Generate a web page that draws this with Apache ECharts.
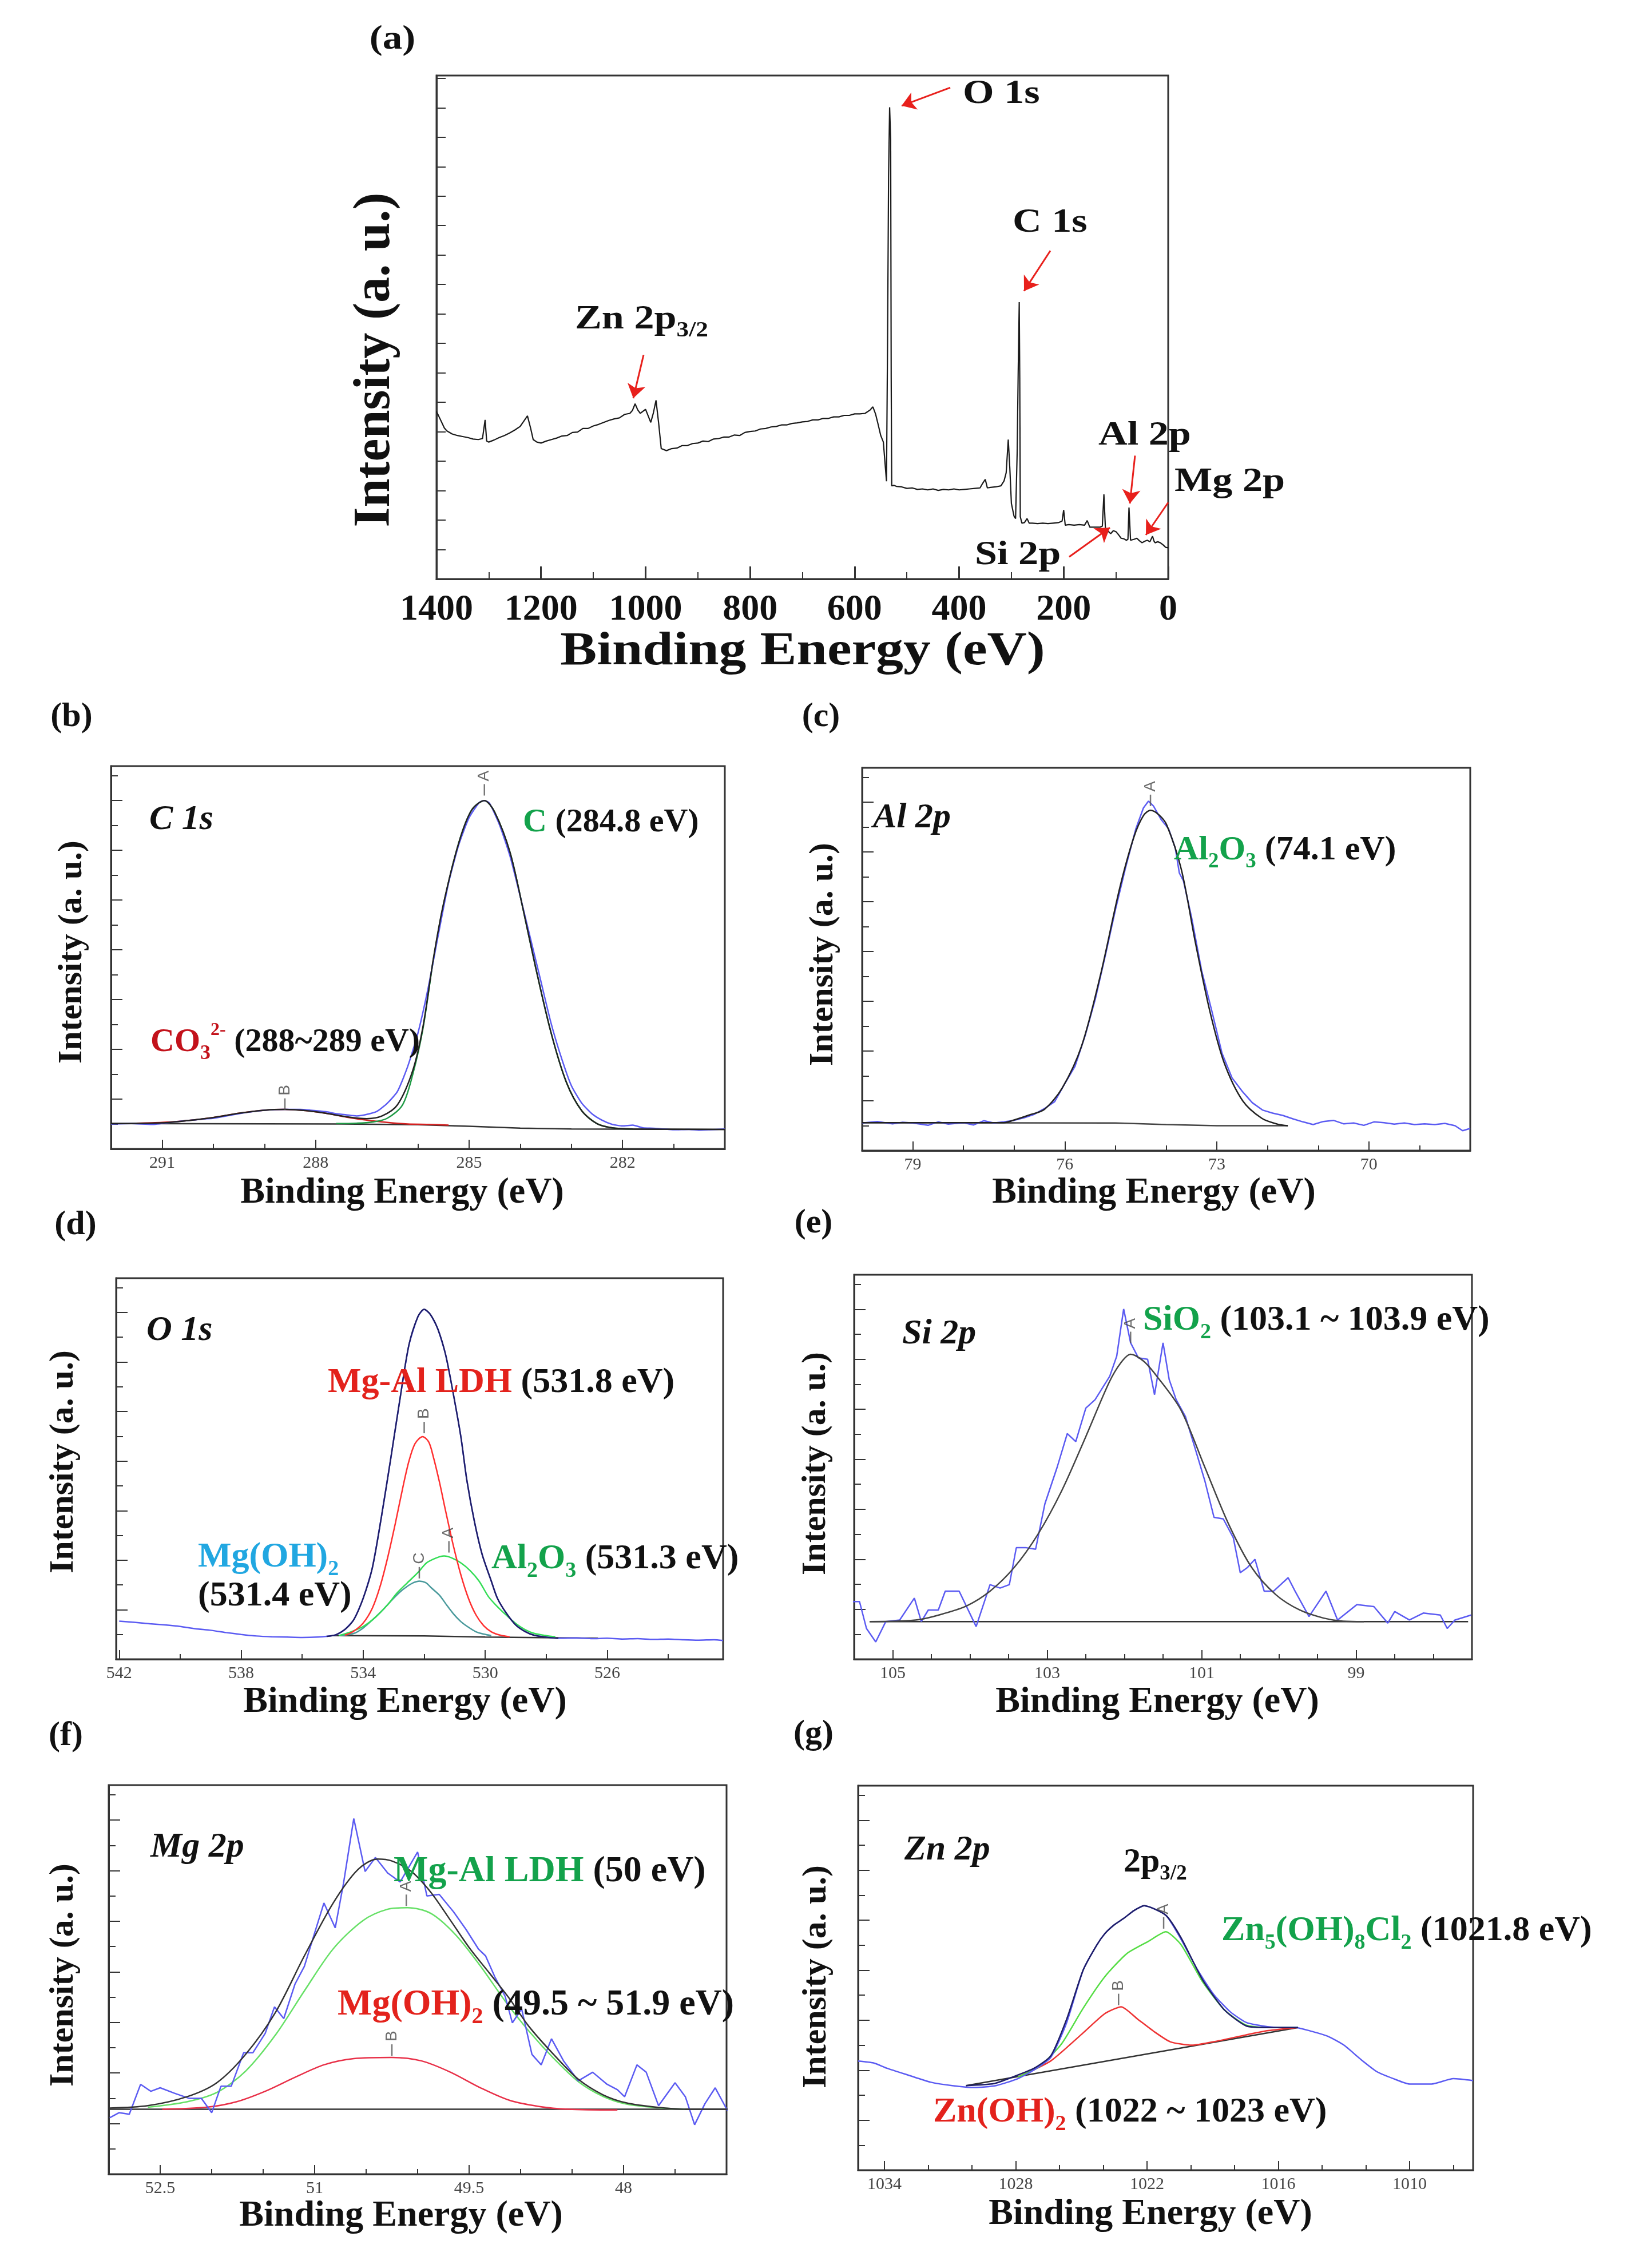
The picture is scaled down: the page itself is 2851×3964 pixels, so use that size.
<!DOCTYPE html>
<html>
<head>
<meta charset="utf-8">
<title>XPS spectra</title>
<script src="https://cdn.jsdelivr.net/npm/echarts@6.0.0/dist/echarts.min.js"></script>
<style>
  html, body { margin: 0; padding: 0; background: #fff; }
  #chart { width: 2851px; height: 3964px; }
</style>
</head>
<body>
<div id="chart"></div>
<script>
// ---------- data: [binding energy (eV), intensity (% of plot height)] ----------

// (a) survey
const aTicks = [100, 300, 500, 700, 900, 1100, 1300];
const aTickLabels = [0, 200, 400, 600, 800, 1000, 1200, 1400];
const aSurvey = [
  [1400, 33.3], [1395, 32.2], [1390, 31.1], [1385, 30.0], [1380, 29.4], [1370, 28.8], [1360, 28.5], [1350, 28.3],
  [1340, 28.1], [1330, 27.8], [1320, 27.7], [1312, 27.9], [1307, 31.6], [1304, 27.4], [1300, 27.2], [1290, 27.6],
  [1280, 28.1], [1270, 28.5], [1260, 29.0], [1250, 29.6], [1240, 30.3], [1232, 31.5], [1226, 32.4], [1220, 30.0],
  [1215, 27.7], [1208, 27.2], [1200, 27.0], [1190, 27.4], [1180, 27.7], [1170, 28.0], [1160, 28.4], [1150, 28.5],
  [1140, 29.1], [1130, 29.2], [1120, 29.9], [1110, 29.9], [1100, 30.4], [1090, 30.7], [1080, 31.1], [1070, 31.5],
  [1060, 31.8], [1050, 32.0], [1040, 32.7], [1030, 32.9], [1025, 33.5], [1020, 34.8], [1015, 33.6], [1010, 32.9],
  [1005, 33.3], [1000, 33.7], [995, 32.4], [990, 31.1], [985, 33.0], [980, 35.5], [975, 31.0], [970, 25.9],
  [960, 25.5], [950, 25.9], [940, 26.0], [930, 26.5], [920, 26.5], [910, 26.9], [900, 27.0], [890, 27.4],
  [880, 27.3], [870, 27.8], [860, 27.9], [850, 28.2], [840, 28.2], [830, 28.6], [820, 28.5], [810, 29.1],
  [800, 29.3], [790, 29.4], [780, 29.8], [770, 29.9], [760, 30.2], [750, 30.3], [740, 30.6], [730, 30.6],
  [720, 30.9], [710, 31.0], [700, 31.2], [690, 31.3], [680, 31.6], [670, 31.6], [660, 31.9], [650, 31.9],
  [640, 32.2], [630, 32.2], [620, 32.5], [610, 32.5], [600, 32.8], [590, 32.8], [580, 32.9], [570, 33.6],
  [565, 34.2], [560, 32.8], [555, 30.7], [550, 28.5], [545, 27.2], [541, 22.0], [539, 19.4], [537, 46.3],
  [535, 80.0], [533, 93.7], [531, 87.2], [530, 40.0], [529, 18.5], [525, 18.6], [520, 18.4], [510, 18.3],
  [500, 18.0], [490, 18.1], [480, 17.8], [470, 17.9], [460, 17.7], [450, 17.9], [440, 17.6], [430, 17.8],
  [420, 17.7], [410, 17.9], [400, 17.7], [390, 17.8], [380, 17.9], [370, 18.0], [360, 18.1], [355, 19.0],
  [350, 19.8], [346, 18.1], [340, 18.2], [330, 18.3], [320, 18.5], [314, 19.5], [310, 21.1], [306, 27.7],
  [303, 22.0], [300, 15.0], [295, 12.5], [292, 12.0], [289, 25.0], [287, 41.1], [285, 55.0], [284, 40.0],
  [283, 12.4], [280, 11.1], [275, 11.2], [270, 12.0], [266, 11.1], [260, 11.1], [250, 11.0], [240, 11.1],
  [230, 11.0], [220, 11.1], [210, 11.2], [203, 11.5], [200, 13.7], [197, 10.7], [190, 10.8], [180, 10.7],
  [170, 10.8], [160, 10.7], [155, 11.6], [150, 10.3], [140, 10.3], [130, 10.3], [126, 10.5], [123, 16.8],
  [120, 9.8], [115, 9.5], [110, 9.0], [105, 9.6], [100, 9.4], [95, 8.8], [90, 8.1], [85, 8.0], [80, 7.7],
  [77, 7.9], [75, 14.2], [72, 7.7], [65, 7.9], [60, 8.1], [55, 7.6], [50, 7.2], [45, 7.5], [40, 7.7],
  [35, 7.4], [30, 8.5], [27, 7.5], [25, 7.2], [20, 7.4], [15, 7.2], [10, 6.8], [5, 6.3], [0, 6.2]
];
// red arrows: [from eV, from %, to eV, to %]
const aArrows = [
  [417, 97.6, 510, 94.0],
  [225.5, 65.2, 275.8, 57.2],
  [1003.8, 44.5, 1023.5, 35.9],
  [63.5, 24.5, 73.3, 15.0],
  [0, 15.2, 42.7, 8.75],
  [189.4, 4.4, 111.6, 10.2]
];

// (b) C 1s
const bTicks = [281, 283, 284, 286, 287, 289, 290, 292];
const bTickLabels = [282, 285, 288, 291];
const bRaw = [
  [292.0, 6.5], [291.6, 6.6], [291.2, 6.4], [290.8, 7.0], [290.5, 7.4], [290.2, 7.8], [290.0, 8.0], [289.7, 8.7],
  [289.5, 9.2], [289.2, 9.8], [289.0, 10.1], [288.6, 10.3], [288.3, 10.3], [288.1, 10.1], [287.8, 9.7], [287.6, 9.2],
  [287.4, 8.9], [287.2, 8.6], [287.0, 9.0], [286.8, 9.8], [286.6, 11.9], [286.4, 15.0], [286.2, 21.5], [286.0, 30.2],
  [285.8, 42.0], [285.6, 56.0], [285.4, 69.5], [285.2, 79.5], [285.0, 86.5], [284.8, 90.5], [284.7, 91.0],
  [284.6, 90.3], [284.4, 84.5], [284.2, 76.5], [284.0, 66.0], [283.8, 55.0], [283.6, 44.0], [283.4, 33.0],
  [283.2, 24.0], [283.0, 16.5], [282.8, 12.0], [282.6, 9.2], [282.4, 7.5], [282.2, 6.4], [282.0, 6.0], [281.8, 6.2],
  [281.6, 5.5], [281.4, 5.4], [281.2, 5.2], [281.0, 5.0], [280.7, 5.1], [280.5, 4.9], [280.3, 5.0], [280.0, 5.2]
];
const bFit = [
  [292.0, 6.6], [291.0, 6.8], [290.5, 7.4], [290.0, 8.2], [289.5, 9.3], [289.0, 10.1], [288.6, 10.3], [288.2, 10.0],
  [287.8, 9.3], [287.4, 8.4], [287.0, 7.9], [286.7, 8.6], [286.4, 11.5], [286.1, 20.5], [285.9, 32.0], [285.7, 49.5],
  [285.5, 64.0], [285.2, 80.0], [284.95, 88.5], [284.7, 91.0], [284.5, 88.0], [284.2, 77.5], [283.95, 63.0],
  [283.7, 47.5], [283.4, 30.5], [283.1, 17.5], [282.8, 10.0], [282.5, 6.6], [282.2, 5.5], [281.8, 5.2], [280.0, 5.1]
];
const bPeakA = [
  [287.6, 6.6], [287.2, 6.7], [286.9, 7.0], [286.6, 8.0], [286.3, 11.5], [286.1, 19.5], [285.9, 31.5], [285.7, 49.2],
  [285.5, 63.8], [285.2, 80.0], [284.95, 88.5], [284.7, 91.0], [284.5, 88.0], [284.2, 77.5], [283.95, 63.0],
  [283.7, 47.5], [283.4, 30.5], [283.1, 17.5], [282.8, 10.0], [282.5, 6.6], [282.2, 5.5], [281.8, 5.2]
];
const bPeakB = [
  [291.5, 6.7], [291.0, 6.9], [290.5, 7.4], [290.0, 8.2], [289.5, 9.3], [289.0, 10.1], [288.6, 10.3], [288.2, 10.0],
  [287.8, 9.3], [287.4, 8.3], [287.0, 7.5], [286.6, 6.9], [286.2, 6.5], [285.8, 6.4], [285.4, 6.2]
];
const bBase = [[292.0, 6.6], [287.5, 6.5], [286.0, 6.3], [285.0, 5.9], [284.0, 5.4], [283.0, 5.2], [280.0, 5.1]];
const bMarks = [[284.7, 93.8, 'A'], [288.6, 11.7, 'B']];

// (c) Al 2p
const cTicks = [68, 69, 71, 72, 74, 75, 77, 78, 80];
const cTickLabels = [70, 73, 76, 79];
const cRaw = [
  [80.0, 7.2], [79.7, 7.6], [79.4, 7.0], [79.2, 7.4], [79.0, 7.2], [78.7, 6.6], [78.5, 7.5], [78.3, 6.9], [78.0, 7.3],
  [77.8, 6.7], [77.6, 7.8], [77.4, 7.2], [77.2, 7.5], [77.0, 7.9], [76.8, 8.6], [76.6, 9.5], [76.4, 11.0],
  [76.2, 12.8], [76.0, 17.5], [75.8, 22.0], [75.6, 30.0], [75.4, 39.5], [75.2, 51.0], [75.0, 63.0], [74.8, 74.0],
  [74.6, 84.0], [74.45, 89.5], [74.35, 91.3], [74.25, 90.0], [74.1, 86.5], [73.95, 84.0], [73.82, 79.0],
  [73.74, 72.5], [73.66, 70.5], [73.5, 61.0], [73.3, 47.0], [73.1, 36.5], [72.9, 25.5], [72.7, 19.0], [72.5, 15.5],
  [72.3, 12.5], [72.1, 10.6], [71.9, 9.8], [71.7, 9.2], [71.5, 8.3], [71.3, 7.5], [71.1, 6.8], [70.9, 7.6],
  [70.7, 7.9], [70.5, 7.0], [70.3, 7.2], [70.1, 6.6], [69.9, 7.5], [69.7, 7.3], [69.5, 6.9], [69.3, 7.2],
  [69.1, 6.8], [68.9, 7.0], [68.7, 6.8], [68.5, 7.1], [68.3, 6.5], [68.15, 5.2], [68.0, 5.8]
];
const cFit = [
  [80.0, 7.3], [77.2, 7.3], [77.0, 8.0], [76.7, 9.3], [76.4, 10.8], [76.05, 16.4], [75.67, 27.3], [75.3, 45.7],
  [74.92, 68.4], [74.64, 81.8], [74.45, 87.5], [74.31, 88.9], [74.15, 87.8], [73.99, 85.1], [73.7, 73.4],
  [73.42, 54.1], [73.14, 36.5], [72.86, 23.1], [72.49, 13.0], [72.11, 8.4], [71.8, 6.9], [71.6, 6.5]
];
const cBase = [[80.0, 7.3], [75.0, 7.2], [74.0, 6.8], [73.0, 6.5], [71.6, 6.5]];
const cMarks = [[74.31, 91.5, 'A']];

// (d) O 1s
const dTicks = [524, 528, 532, 536, 540];
const dTickLabels = [526, 530, 534, 538, 542];
const dRaw = [
  [542.0, 10.0], [541.5, 9.7], [541.0, 9.3], [540.5, 9.0], [540.0, 8.6], [539.5, 8.0], [539.0, 7.6], [538.5, 7.0],
  [538.0, 6.5], [537.5, 6.1], [537.0, 5.9], [536.5, 5.8], [536.0, 5.7], [535.5, 5.8], [535.2, 6.0], [534.9, 6.4],
  [534.6, 7.8], [534.3, 10.5], [534.0, 16.0], [533.7, 24.0], [533.4, 37.5], [533.1, 52.5], [532.8, 68.0],
  [532.5, 82.5], [532.2, 90.0], [532.0, 91.8], [531.8, 90.5], [531.55, 86.6], [531.3, 80.0], [531.07, 70.7],
  [530.8, 58.5], [530.6, 46.9], [530.35, 36.0], [530.1, 27.5], [529.8, 20.5], [529.6, 16.0], [529.3, 12.0],
  [529.0, 9.0], [528.7, 7.3], [528.4, 6.3], [528.0, 5.8], [527.6, 5.5], [527.0, 5.6], [526.5, 5.4], [526.0, 5.5],
  [525.5, 5.3], [525.0, 5.4], [524.5, 5.2], [524.0, 5.3], [523.5, 5.1], [523.0, 5.0], [522.5, 5.1], [522.2, 4.9]
];
const dFit = [
  [535.2, 6.0], [534.9, 6.4], [534.6, 7.8], [534.3, 10.5], [534.0, 16.0], [533.7, 24.0], [533.4, 37.5], [533.1, 52.5],
  [532.8, 68.0], [532.5, 82.5], [532.2, 90.0], [532.0, 91.8], [531.8, 90.5], [531.55, 86.6], [531.3, 80.0],
  [531.07, 70.7], [530.8, 58.5], [530.6, 46.9], [530.35, 36.0], [530.1, 27.5], [529.8, 20.5], [529.6, 16.0],
  [529.3, 12.0], [529.0, 9.0], [528.7, 7.3], [528.4, 6.3], [528.0, 5.8], [527.6, 5.5]
];
const dPeakB = [
  [534.6, 6.3], [534.34, 7.2], [534.0, 9.5], [533.7, 13.4], [533.45, 19.0], [533.2, 26.6], [532.95, 35.5],
  [532.7, 45.1], [532.5, 52.0], [532.3, 56.6], [532.05, 58.4], [531.85, 57.0], [531.7, 53.1], [531.5, 46.5],
  [531.3, 39.0], [531.05, 30.0], [530.8, 22.2], [530.55, 16.0], [530.3, 11.6], [530.05, 8.8], [529.8, 7.2],
  [529.5, 6.3], [529.2, 5.9]
];
const dPeakA = [
  [534.8, 6.2], [534.4, 7.2], [534.0, 8.6], [533.6, 11.0], [533.2, 14.3], [532.9, 17.3], [532.56, 20.0],
  [532.2, 22.8], [531.92, 25.3], [531.6, 26.6], [531.35, 27.1], [531.1, 26.6], [530.8, 25.3], [530.5, 23.3],
  [530.2, 20.5], [529.9, 16.5], [529.66, 14.3], [529.3, 11.5], [529.0, 9.4], [528.7, 7.8], [528.4, 6.8],
  [528.0, 6.2], [527.7, 5.9]
];
const dPeakC = [
  [534.8, 6.2], [534.3, 6.8], [534.0, 8.2], [533.7, 10.3], [533.35, 13.0], [533.05, 15.6], [532.8, 17.6],
  [532.56, 19.1], [532.35, 20.1], [532.16, 20.5], [531.95, 20.1], [531.76, 18.7], [531.5, 16.8], [531.27, 14.3],
  [531.05, 12.0], [530.8, 9.9], [530.55, 8.4], [530.3, 7.2], [530.05, 6.6], [529.8, 6.2]
];
const dBase = [[535.0, 6.2], [532.0, 6.1], [530.0, 5.8], [526.3, 5.5]];
const dMarks = [[531.19, 29.5, 'A'], [532.0, 60.8, 'B'], [532.16, 22.7, 'C']];

// (e) Si 2p
const eTicks = [98, 98.5, 99.5, 100, 100.5, 101.5, 102, 102.5, 103.5, 104, 104.5];
const eTickLabels = [99, 101, 103, 105];
const eRaw = [
  [105.52, 15.0], [105.43, 15.0], [105.34, 8.0], [105.22, 4.5], [105.09, 9.8], [104.91, 10.2], [104.72, 15.9],
  [104.63, 9.8], [104.54, 12.8], [104.41, 12.8], [104.32, 17.7], [104.14, 17.7], [103.92, 8.5], [103.74, 19.4],
  [103.61, 18.5], [103.49, 19.4], [103.40, 29.0], [103.27, 29.0], [103.15, 28.6], [103.03, 40.4], [102.87, 50.0],
  [102.74, 58.7], [102.63, 56.6], [102.50, 65.3], [102.38, 67.5], [102.19, 73.6], [102.10, 78.8], [102.01, 91.1],
  [101.92, 82.3], [101.82, 78.4], [101.70, 78.0], [101.61, 68.8], [101.50, 82.3], [101.42, 72.7], [101.33, 67.5],
  [101.21, 63.1], [101.09, 55.2], [100.96, 46.5], [100.84, 36.9], [100.72, 36.5], [100.59, 31.6], [100.50, 22.5],
  [100.41, 23.8], [100.31, 26.0], [100.19, 17.7], [100.07, 17.7], [99.88, 21.2], [99.79, 17.7], [99.61, 11.1],
  [99.39, 17.7], [99.24, 10.2], [98.99, 14.2], [98.77, 13.7], [98.59, 9.4], [98.50, 12.4], [98.31, 10.2],
  [98.13, 12.0], [97.91, 11.5], [97.82, 8.0], [97.72, 10.2], [97.51, 11.5]
];
const eFit = [
  [105.3, 9.8], [104.97, 9.9], [104.66, 10.3], [104.35, 11.8], [104.04, 13.9], [103.74, 17.7], [103.43, 23.8],
  [103.12, 32.5], [102.81, 43.9], [102.5, 57.9], [102.2, 71.9], [102.05, 77.0], [101.92, 79.3], [101.75, 77.5],
  [101.58, 73.6], [101.27, 64.9], [100.96, 50.0], [100.65, 35.1], [100.35, 23.8], [100.04, 16.8], [99.73, 12.8],
  [99.42, 10.7], [99.17, 9.9], [98.9, 9.8]
];
const eBase = [[105.3, 9.8], [97.55, 9.8]];
const eMarks = [[101.92, 83.7, 'A']];

// (f) Mg 2p
const fTicks = [47.5, 48.5, 49, 50, 50.5, 51.5, 52];
const fTickLabels = [48, 49.5, 51, 52.5];
const fRaw = [
  [52.99, 14.5], [52.9, 15.8], [52.8, 15.4], [52.69, 23.1], [52.59, 21.3], [52.5, 22.2], [52.36, 20.8],
  [52.22, 19.5], [52.1, 19.5], [52.0, 15.8], [51.91, 22.6], [51.81, 22.6], [51.69, 31.2], [51.6, 31.2],
  [51.48, 36.2], [51.39, 43.0], [51.3, 40.0], [51.19, 48.9], [51.1, 53.4], [51.0, 62.0], [50.91, 69.7],
  [50.8, 63.3], [50.72, 74.7], [50.62, 91.4], [50.51, 77.8], [50.41, 81.4], [50.29, 77.4], [50.17, 75.1],
  [50.0, 82.8], [49.91, 71.5], [49.79, 71.9], [49.65, 67.4], [49.53, 62.9], [49.41, 57.9], [49.34, 56.1],
  [49.25, 50.7], [49.15, 45.7], [49.08, 38.9], [48.99, 42.5], [48.89, 30.8], [48.8, 28.1], [48.7, 34.8],
  [48.58, 29.0], [48.44, 24.0], [48.3, 26.2], [48.16, 23.1], [48.06, 21.7], [47.99, 19.9], [47.87, 28.1],
  [47.78, 26.2], [47.66, 17.6], [47.5, 23.5], [47.4, 19.9], [47.31, 12.7], [47.21, 18.1], [47.11, 22.2],
  [46.99, 16.3]
];
const fFit = [
  [52.99, 17.0], [52.62, 17.6], [52.24, 19.9], [51.95, 23.5], [51.67, 30.8], [51.38, 41.6], [51.1, 56.1],
  [50.82, 69.7], [50.58, 78.3], [50.39, 81.0], [50.25, 80.5], [50.06, 77.8], [49.87, 72.4], [49.68, 65.2],
  [49.49, 57.9], [49.3, 51.6], [49.11, 45.2], [48.92, 38.0], [48.68, 30.8], [48.44, 24.4], [48.2, 20.4],
  [47.97, 18.3], [47.68, 17.2], [47.4, 16.7], [46.99, 16.7]
];
const fPeakA = [
  [52.62, 17.2], [52.24, 18.6], [51.95, 21.0], [51.67, 26.5], [51.38, 35.8], [51.1, 47.1], [50.82, 57.9],
  [50.53, 65.2], [50.29, 68.1], [50.1, 68.5], [49.87, 67.0], [49.63, 61.5], [49.39, 53.5], [49.15, 44.5],
  [48.92, 36.8], [48.68, 29.8], [48.44, 23.8], [48.2, 20.0], [47.97, 18.0], [47.68, 17.1], [47.4, 16.7]
];
const fPeakB = [
  [52.48, 16.7], [52.05, 17.2], [51.76, 18.6], [51.48, 21.3], [51.19, 24.9], [50.91, 28.1], [50.62, 29.7],
  [50.25, 30.0], [49.96, 29.1], [49.68, 26.2], [49.39, 22.2], [49.11, 19.0], [48.82, 17.4], [48.54, 16.7],
  [48.06, 16.5]
];
const fBase = [[52.99, 16.7], [46.99, 16.7]];
const fMarks = [[50.11, 70.4, 'A'], [50.25, 31.9, 'B']];

// (g) Zn 2p
const gTicks = [1008, 1012, 1014, 1018, 1020, 1024, 1026, 1030, 1032];
const gTickLabels = [1010, 1016, 1022, 1028, 1034];
const gRaw = [
  [1035.2, 28.4], [1034.5, 27.9], [1033.88, 26.5], [1032.9, 24.7], [1031.9, 22.9], [1030.9, 22.0], [1029.9, 21.5],
  [1028.9, 22.0], [1027.9, 23.8], [1027.16, 26.1], [1026.4, 29.3], [1025.67, 38.4], [1024.92, 52.0],
  [1024.3, 58.5], [1023.93, 61.5], [1023.5, 63.8], [1023.06, 65.5], [1022.6, 67.5], [1022.13, 68.8],
  [1021.14, 66.3], [1020.44, 60.0], [1019.7, 52.2], [1018.95, 45.7], [1018.2, 41.2], [1017.46, 38.4],
  [1016.71, 37.5], [1015.96, 37.1], [1015.22, 37.1], [1014.47, 36.1], [1013.73, 34.8], [1013.0, 32.5],
  [1012.23, 28.8], [1011.49, 25.6], [1010.74, 23.8], [1010.0, 22.4], [1009.0, 22.4], [1008.0, 23.8], [1007.1, 23.3]
];
const gFit = [
  [1030.27, 22.0], [1029.0, 22.5], [1028.15, 24.2], [1027.16, 26.5], [1026.4, 29.7], [1025.67, 39.3],
  [1024.92, 52.0], [1024.3, 58.5], [1023.93, 61.5], [1023.5, 63.8], [1023.06, 65.5], [1022.6, 67.5],
  [1022.13, 68.8], [1021.14, 66.3], [1020.44, 60.4], [1019.45, 49.4], [1018.45, 41.6], [1017.46, 37.5],
  [1016.46, 37.1], [1015.1, 37.1]
];
const gPeakA = [
  [1027.9, 24.2], [1026.9, 27.0], [1025.9, 32.9], [1024.92, 42.1], [1023.93, 50.3], [1022.93, 56.3],
  [1021.94, 59.5], [1021.14, 62.0], [1020.44, 58.6], [1019.45, 48.9], [1018.45, 41.6], [1017.46, 37.7],
  [1016.46, 37.1], [1015.1, 37.1]
];
const gPeakB = [
  [1027.9, 24.2], [1026.4, 28.4], [1024.92, 35.7], [1023.93, 40.7], [1023.18, 42.5], [1022.43, 39.3],
  [1021.69, 36.1], [1020.94, 33.4], [1019.95, 32.5], [1018.95, 33.4], [1017.46, 35.2], [1016.46, 36.3],
  [1015.1, 37.1]
];
const gBase = [[1030.27, 22.0], [1015.1, 37.1]];
const gMarks = [[1021.24, 64.3, 'A'], [1023.3, 44.4, 'B']];

// ---------- layout / style ----------
const SERIF = '"Liberation Serif", "Times New Roman", serif';
const INK = '#111';
const AXIS = '#333';
const RAW = '#5b5bf2';
const TXT_GREEN = '#13a24b', TXT_RED = '#e3221c', TXT_DARKRED = '#c3121b', TXT_CYAN = '#21a7e1';

// plot boxes [left, top, width, height]
const boxes = [
  [763, 132, 1279, 880],
  [194, 1339, 1073, 669],
  [1507, 1342, 1063, 669],
  [203, 2234, 1061, 666],
  [1493, 2228, 1080, 672],
  [190, 3120, 1080, 680],
  [1500, 3121, 1075, 672]
];
const ranges = [[0, 1400], [280, 292], [68, 80], [522.2, 542.1], [97.5, 105.5], [47, 53], [1007.1, 1035.2]];
const minorTicks = [aTicks, bTicks, cTicks, dTicks, eTicks, fTicks, gTicks];
const tickLabels = [aTickLabels, bTickLabels, cTickLabels, dTickLabels, eTickLabels, fTickLabels, gTickLabels];

const grids = [], xAxes = [], minorAxes = [], yAxes = [];
boxes.forEach((b, i) => {
  const big = i === 0;
  grids.push({ left: b[0], top: b[1], width: b[2], height: b[3], show: true, borderColor: AXIS, borderWidth: 3, containLabel: false });
  // labelled (long) ticks
  xAxes.push({
    type: 'value', gridIndex: i, position: 'bottom', min: ranges[i][0], max: ranges[i][1], inverse: true,
    axisLine: { show: true, onZero: false, lineStyle: { color: AXIS, width: 3 } },
    axisTick: { show: true, inside: true, length: big ? 22 : 16, customValues: tickLabels[i], lineStyle: { color: AXIS, width: big ? 3 : 2 } },
    axisLabel: {
      show: true, customValues: tickLabels[i], margin: big ? 22 : 10, formatter: v => String(v),
      color: big ? INK : '#444', fontFamily: SERIF, fontSize: big ? 64 : 30, fontWeight: big ? 'bold' : 'normal'
    },
    splitLine: { show: false }
  });
  // short in-between ticks
  minorAxes.push({
    type: 'value', gridIndex: i, position: 'bottom', offset: 0, min: ranges[i][0], max: ranges[i][1], inverse: true,
    axisLine: { show: false },
    axisTick: { show: true, inside: true, length: big ? 12 : 9, customValues: minorTicks[i], lineStyle: { color: AXIS, width: 2 } },
    axisLabel: { show: false },
    splitLine: { show: false }
  });
  yAxes.push({
    type: 'value', gridIndex: i, min: 0, max: 100, interval: big ? 5.85 : 13,
    axisLine: { show: true, onZero: false, lineStyle: { color: AXIS, width: 3 } },
    axisTick: { show: true, inside: true, length: big ? 16 : 20, lineStyle: { color: AXIS, width: 2 } },
    minorTick: { show: !big, splitNumber: 2, length: 12, lineStyle: { color: AXIS, width: 2 } },
    axisLabel: { show: false },
    splitLine: { show: false }
  });
});

function line(i, data, color, width, z, smooth) {
  return {
    type: 'line', xAxisIndex: i, yAxisIndex: i, data, symbol: 'none', showSymbol: false,
    smooth: smooth || false, lineStyle: { color, width }, z, silent: true
  };
}
function marks(i, data) {
  return {
    type: 'scatter', xAxisIndex: i, yAxisIndex: i, z: 8, silent: true,
    data: data.map(m => ({ value: [m[0], m[1]], name: m[2] })),
    symbol: 'rect', symbolSize: [2.5, 20], itemStyle: { color: '#555' },
    label: {
      show: true, formatter: p => p.name, position: 'top', distance: 5, rotate: 90,
      align: 'left', verticalAlign: 'middle', fontSize: 28, fontFamily: '"Liberation Sans", sans-serif', color: '#444'
    }
  };
}

const series = [
  Object.assign(line(0, aSurvey, '#1a1a1a', 2.2, 3), {
    markLine: {
      silent: true, symbol: ['none', 'arrow'], symbolSize: 24, animation: false,
      label: { show: false },
      lineStyle: { color: '#e8201c', width: 3, type: 'solid' },
      data: aArrows.map(a => [{ coord: [a[0], a[1]] }, { coord: [a[2], a[3]] }])
    }
  }),

  line(1, bBase, AXIS, 2.5, 2),
  line(1, bPeakB, '#d42020', 2.5, 3, 0.3),
  line(1, bPeakA, '#1f9a45', 2.5, 3, 0.3),
  line(1, bRaw, RAW, 2.5, 4, 0.2),
  line(1, bFit, '#222', 2.5, 5, 0.3),
  marks(1, bMarks),

  line(2, cBase, '#444', 2.5, 2),
  line(2, cRaw, RAW, 2.5, 4),
  line(2, cFit, '#222', 2.5, 5, 0.3),
  marks(2, cMarks),

  line(3, dBase, AXIS, 2.5, 2),
  line(3, dPeakC, '#4a9a9c', 2.5, 3, 0.3),
  line(3, dPeakA, '#33dd55', 2.5, 3, 0.3),
  line(3, dPeakB, '#ff3030', 2.5, 3, 0.3),
  line(3, dRaw, RAW, 2.5, 4, 0.2),
  line(3, dFit, '#1f1f66', 2.5, 5, 0.3),
  marks(3, dMarks),

  line(4, eBase, AXIS, 2.5, 2),
  line(4, eRaw, RAW, 2.5, 4),
  line(4, eFit, '#444', 2.5, 5, 0.3),
  marks(4, eMarks),

  line(5, fBase, AXIS, 2.5, 2),
  line(5, fPeakB, '#e83048', 2.5, 3, 0.3),
  line(5, fPeakA, '#66e066', 2.5, 3, 0.3),
  line(5, fRaw, RAW, 2.5, 4),
  line(5, fFit, '#333', 2.5, 5, 0.3),
  marks(5, fMarks),

  line(6, gBase, AXIS, 2.5, 2),
  line(6, gPeakB, '#ee3333', 2.5, 3, 0.2),
  line(6, gPeakA, '#55dd44', 2.5, 3, 0.2),
  line(6, gRaw, RAW, 2.5, 4, 0.2),
  line(6, gFit, '#1f1f66', 2.5, 5, 0.2),
  marks(6, gMarks)
];

// ---------- text ----------
function rich(size) {
  const lh = Math.round(size * 1.3), sub = Math.round(size * 0.62), sup = Math.round(size * 0.56);
  const big = (fill, st) => ({ fill, font: (st ? st + ' ' : '') + 'bold ' + size + 'px ' + SERIF, lineHeight: lh });
  const low = fill => ({ fill, font: 'bold ' + sub + 'px ' + SERIF, lineHeight: sub, verticalAlign: 'bottom' });
  const high = fill => ({ fill, font: 'bold ' + sup + 'px ' + SERIF, lineHeight: sup, verticalAlign: 'top' });
  return {
    k: big(INK), i: big(INK, 'italic'), g: big(TXT_GREEN), r: big(TXT_RED), d: big(TXT_DARKRED), c: big(TXT_CYAN),
    ks: low(INK), gs: low(TXT_GREEN), rs: low(TXT_RED), ds: low(TXT_DARKRED), cs: low(TXT_CYAN), dp: high(TXT_DARKRED)
  };
}
function note(x, y, text, size, o) {
  o = o || {};
  const align = o.align || 'left';
  return {
    type: 'text', x, y, rotation: o.rot || 0, scaleX: o.sx || 1, silent: true, z: 100,
    style: {
      text, font: 'bold ' + size + 'px ' + SERIF, fill: INK, rich: rich(size),
      align, textAlign: align, verticalAlign: 'middle', textVerticalAlign: 'middle'
    }
  };
}
const UP = Math.PI / 2;
const C = { align: 'center' };
const YT = { align: 'center', rot: UP };
const YTITLE = '{k|Intensity (a. u.)}';
const XTITLE = '{k|Binding Energy (eV)}';

const graphic = [
  // (a)
  note(686, 69, '{k|(a)}', 60, { align: 'center', sx: 1.15 }),
  note(1683, 164, '{k|O 1s}', 60, { sx: 1.17 }),
  note(1770, 389, '{k|C 1s}', 60, { sx: 1.17 }),
  note(1005, 558, '{k|Zn 2p}{ks|3/2}', 60, { sx: 1.17 }),
  note(1920, 761, '{k|Al 2p}', 60, { sx: 1.17 }),
  note(2053, 842, '{k|Mg 2p}', 60, { sx: 1.17 }),
  note(1704, 970, '{k|Si 2p}', 60, { sx: 1.17 }),
  note(1403, 1140, XTITLE, 82, { align: 'center', sx: 1.17 }),
  note(657, 629, YTITLE, 90, YT),
  // (b)
  note(125, 1253, '{k|(b)}', 60, C),
  note(261, 1433, '{i|C 1s}', 62),
  note(914, 1438, '{g|C}{k| (284.8 eV)}', 58),
  note(263, 1822, '{d|CO}{ds|3}{dp|2-}{k| (288~289 eV)}', 58),
  note(126, 1664, YTITLE, 60, YT),
  note(703, 2085, XTITLE, 64, C),
  // (c)
  note(1435, 1253, '{k|(c)}', 60, C),
  note(1526, 1430, '{i|Al 2p}', 62),
  note(2052, 1486, '{g|Al}{gs|2}{g|O}{gs|3}{k| (74.1 eV)}', 60),
  note(1439, 1668, YTITLE, 60, YT),
  note(2017, 2085, XTITLE, 64, C),
  // (d)
  note(132, 2141, '{k|(d)}', 60, C),
  note(256, 2326, '{i|O 1s}', 62),
  note(573, 2417, '{r|Mg-Al LDH}{k| (531.8 eV)}', 62),
  note(346, 2722, '{c|Mg(OH)}{cs|2}', 62),
  note(346, 2790, '{k|(531.4 eV)}', 62),
  note(859, 2725, '{g|Al}{gs|2}{g|O}{gs|3}{k| (531.3 eV)}', 62),
  note(111, 2555, YTITLE, 60, YT),
  note(708, 2975, XTITLE, 64, C),
  // (e)
  note(1422, 2138, '{k|(e)}', 60, C),
  note(1577, 2332, '{i|Si 2p}', 62),
  note(1998, 2308, '{g|SiO}{gs|2}{k| (103.1 ~ 103.9 eV)}', 62),
  note(1426, 2558, YTITLE, 60, YT),
  note(2023, 2975, XTITLE, 64, C),
  // (f)
  note(115, 3034, '{k|(f)}', 60, C),
  note(263, 3229, '{i|Mg 2p}', 62),
  note(688, 3271, '{g|Mg-Al LDH}{k| (50 eV)}', 64),
  note(590, 3504, '{r|Mg(OH)}{rs|2}{k| (49.5 ~ 51.9 eV)}', 64),
  note(111, 3452, YTITLE, 60, YT),
  note(701, 3873, XTITLE, 64, C),
  // (g)
  note(1422, 3031, '{k|(g)}', 60, C),
  note(1581, 3234, '{i|Zn 2p}', 62),
  note(1964, 3255, '{k|2p}{ks|3/2}', 60),
  note(2135, 3375, '{g|Zn}{gs|5}{g|(OH)}{gs|8}{g|Cl}{gs|2}{k| (1021.8 eV)}', 62),
  note(1631, 3692, '{r|Zn(OH)}{rs|2}{k| (1022 ~ 1023 eV)}', 62),
  note(1427, 3455, YTITLE, 60, YT),
  note(2011, 3870, XTITLE, 64, C)
];

const chart = echarts.init(document.getElementById('chart'), null, { renderer: 'canvas' });
chart.setOption({
  backgroundColor: '#fff',
  animation: false,
  grid: grids,
  xAxis: xAxes.concat(minorAxes),
  yAxis: yAxes,
  series,
  graphic
});
</script>
</body>
</html>
